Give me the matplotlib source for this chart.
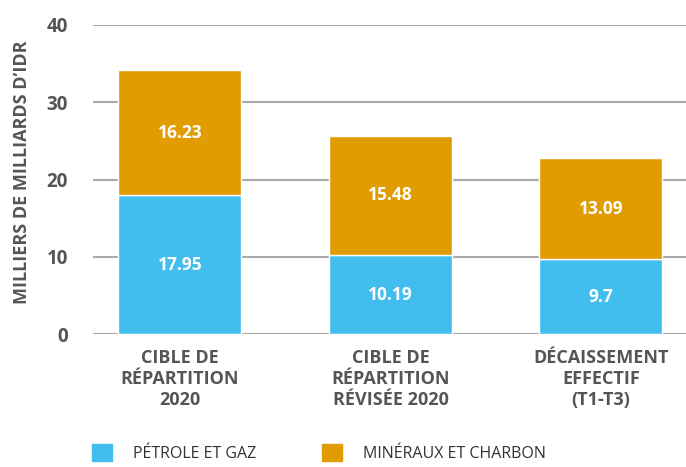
import matplotlib
matplotlib.use("Agg")
import matplotlib.pyplot as plt
from matplotlib.patches import Patch

categories = ["CIBLE DE\nRÉPARTITION\n2020", "CIBLE DE\nRÉPARTITION\nRÉVISÉE 2020", "DÉCAISSEMENT\nEFFECTIF\n(T1-T3)"]
petrole = [17.95, 10.19, 9.7]
mineraux = [16.23, 15.48, 13.09]
series_names = ["PÉTROLE ET GAZ", "MINÉRAUX ET CHARBON"]
yticks = [0, 10, 20, 30, 40]

blue = "#41BEEE"
orange = "#E09C00"
grey = "#555555"

plt.rcParams['font.family'] = ['Open Sans', 'DejaVu Sans']

fig = plt.figure(figsize=(6.86, 4.67), dpi=100)
ax = fig.add_axes([93/686, 1 - 334/467, 1 - 93/686, (334 - 25)/467])

x = list(range(len(categories)))
w = 0.584
ax.bar(x, petrole, width=w, color=blue, edgecolor="white", linewidth=1, zorder=3)
ax.bar(x, mineraux, width=w, bottom=petrole, color=orange, edgecolor="white", linewidth=1, zorder=3)

for i in x:
    ax.text(i, petrole[i] / 2, f"{petrole[i]:g}", ha="center", va="center",
            color="white", fontsize=12.5, fontweight="bold", zorder=4)
    ax.text(i, petrole[i] + mineraux[i] / 2, f"{mineraux[i]:g}", ha="center", va="center",
            color="white", fontsize=12.5, fontweight="bold", zorder=4)

ax.set_xlim(-0.413, 2.404)
ax.set_ylim(0, 40)
ax.set_yticks(yticks)
ax.yaxis.grid(True, color="#aaaaaa", linewidth=1.5, zorder=0)
ax.set_xticks(x)
ax.set_xticklabels(categories, fontsize=13, fontweight="bold", color=grey, linespacing=1.2)
for lab in ax.get_yticklabels():
    lab.set_fontsize(13.5)
    lab.set_fontweight("bold")
    lab.set_color(grey)
ax.tick_params(axis="y", length=0, pad=18)
ax.tick_params(axis="x", length=0, pad=11)
for s in ax.spines.values():
    s.set_visible(False)

fig.text(22/686, 1 - 172/467, "MILLIERS DE MILLIARDS D’IDR", rotation=90, ha="center", va="center",
         fontsize=13, fontweight="bold", color=grey)

handles = [Patch(color=blue), Patch(color=orange)]
fig.legend(handles, series_names, loc="lower left", bbox_to_anchor=(78/686, -0.02), ncol=2,
           frameon=False, fontsize=11.5, handlelength=1.25, handleheight=1.25,
           handletextpad=1.3, columnspacing=4.1, labelcolor="#333333")

fig.savefig("out.png", dpi=100)
